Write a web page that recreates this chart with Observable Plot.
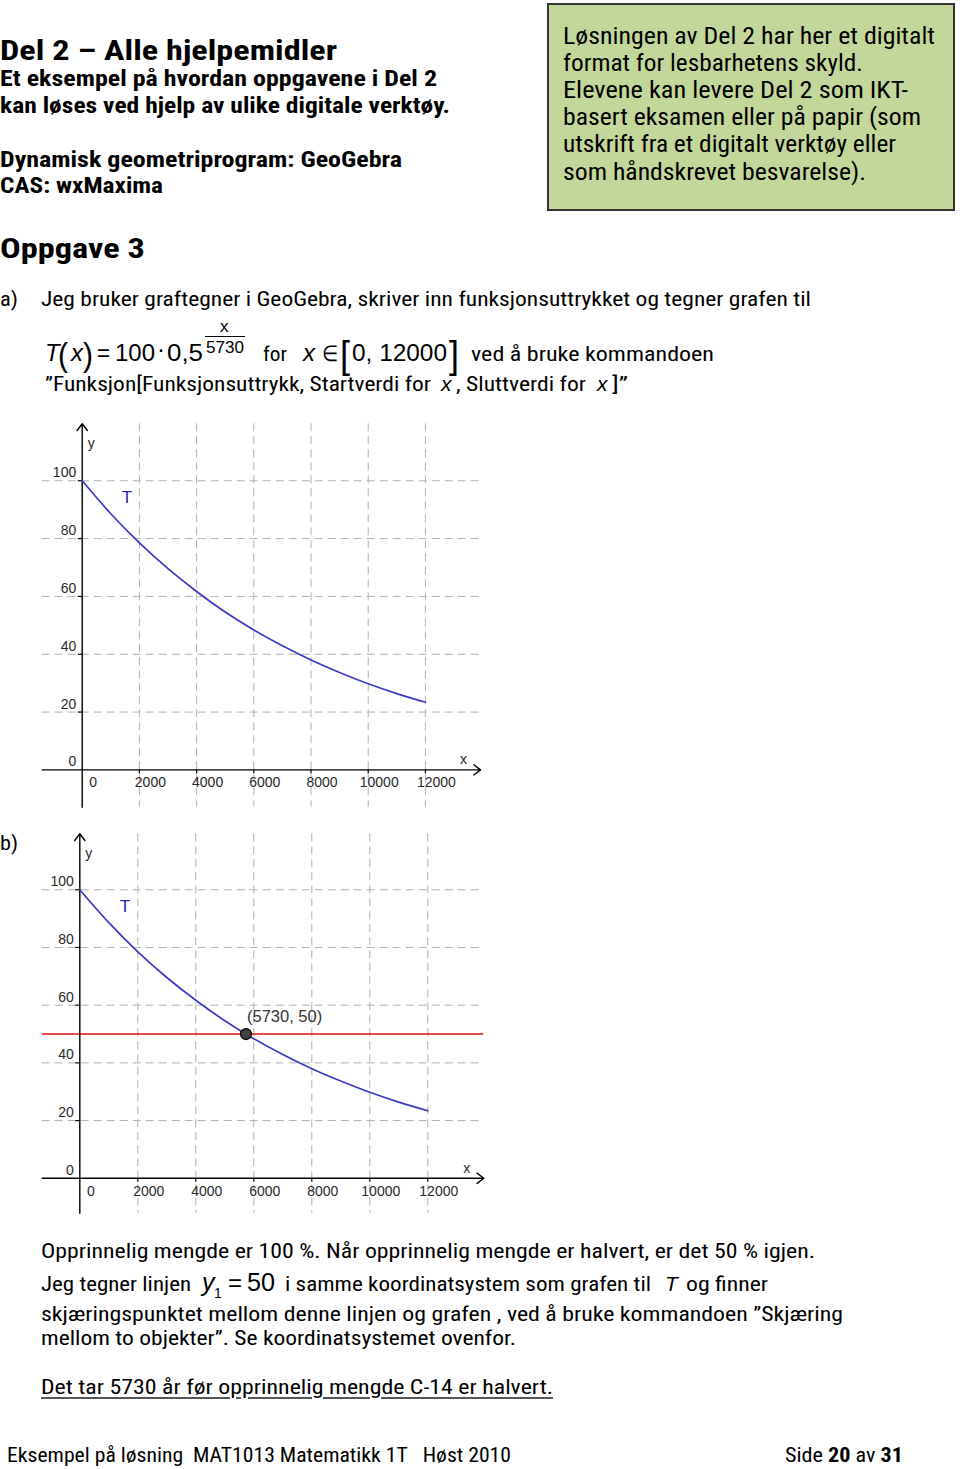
<!DOCTYPE html>
<html><head><meta charset="utf-8">
<script src="https://cdn.jsdelivr.net/npm/d3@7"></script>
<script src="https://cdn.jsdelivr.net/npm/@observablehq/plot@0.6"></script>
<style>
html,body{margin:0;padding:0;background:#fff;}
#page{position:relative;width:960px;height:1469px;overflow:hidden;font-family:"Liberation Sans Narrow","Roboto Condensed","DejaVu Sans Condensed","Liberation Sans",Arial,sans-serif;color:#000;}
.t{position:absolute;white-space:nowrap;line-height:1;transform-origin:0 0;}
.m{font-family:"Liberation Sans",Arial,sans-serif;}
#box{position:absolute;left:547px;top:3px;width:404px;height:204px;background:#c4d79b;border:2px solid #333;}
#fracbar{position:absolute;left:205px;top:336px;width:40px;height:0;border-top:1.3px solid #000;}
.chart{position:absolute;left:0;}
.u{text-decoration:underline;text-decoration-color:#555;text-decoration-thickness:2px;text-underline-offset:3px;}
</style></head><body><div id="page"><div id="box"></div><div id="fracbar"></div></div>
<script>
// ---------- chart data ----------
const tickValuesX = [0, 2000, 4000, 6000, 8000, 10000, 12000];
const tickValuesY = [0, 20, 40, 60, 80, 100];
const gridX = [2000, 4000, 6000, 8000, 10000, 12000];
const gridY = [20, 40, 60, 80, 100];
const years = [0, 1000, 2000, 3000, 4000, 5000, 6000, 7000, 8000, 9000, 10000, 11000, 12000];
const amount = [100, 88.6, 78.5, 69.6, 61.7, 54.6, 48.4, 42.9, 38.0, 33.7, 29.8, 26.4, 23.4];
const curveLabel = [{x: 1560, y: 94.2, text: "T"}];
const halfLine = [50];
const intersection = [{x: 5730, y: 50, text: "(5730, 50)"}];

const page = document.getElementById("page");
const items = [];
function put(x, bl, size, html, opts = {}) {
  const d = document.createElement("div");
  d.className = "t" + (opts.math ? " m" : "") + (opts.cls ? " " + opts.cls : "");
  d.style.fontSize = size + "px";
  if (opts.bold) d.style.fontWeight = "bold";
  if (opts.italic) d.style.fontStyle = "italic";
  d.innerHTML = html + '<span class="bl" style="display:inline-block;width:0;height:0;vertical-align:baseline"></span>';
  d.style.left = x + "px";
  d.style.top = "0px";
  page.appendChild(d);
  items.push({d, bl, w: opts.w});
}
function layout() {
  const pr = page.getBoundingClientRect();
  for (const it of items) {
    it.d.style.transform = "";
    it.d.style.top = "0px";
    const b = it.d.querySelector(".bl").getBoundingClientRect().top - pr.top;
    it.d.style.top = (it.bl - b) + "px";
    if (it.w) {
      const w = it.d.getBoundingClientRect().width;
      it.d.style.transform = `scaleX(${it.w / w})`;
    }
  }
}

// ---------- page text ----------
put(0, 60, 28, "Del 2 – Alle hjelpemidler", {bold: true, w: 337});
put(0, 86, 22, "Et eksempel på hvordan oppgavene i Del 2", {bold: true, w: 437});
put(0, 113, 22, "kan løses ved hjelp av ulike digitale verktøy.", {bold: true, w: 450});
put(0, 167, 22, "Dynamisk geometriprogram: GeoGebra", {bold: true, w: 402});
put(0, 193, 22, "CAS: wxMaxima", {bold: true, w: 163});

const boxLines = [
  ["Løsningen av Del 2 har her et digitalt", 44, 372],
  ["format for lesbarhetens skyld.", 71, 300],
  ["Elevene kan levere Del 2 som IKT-", 98, 345],
  ["basert eksamen eller på papir (som", 125, 358],
  ["utskrift fra et digitalt verktøy eller", 152, 333],
  ["som håndskrevet besvarelse).", 180, 303]
];
for (const [s, bl, w] of boxLines) put(563, bl, 23, s, {w});

put(0, 258, 28, "Oppgave 3", {bold: true, w: 145});
put(0, 306, 21, "a)", {w: 18});
put(41, 306, 21, "Jeg bruker graftegner i GeoGebra, skriver inn funksjonsuttrykket og tegner grafen til", {w: 770});

// formula line
put(45, 361, 24, "T", {math: true, italic: true});
put(58, 366, 34, "(", {math: true, w: 10});
put(71, 361, 24, "x", {math: true, italic: true});
put(83, 366, 34, ")", {math: true, w: 10});
put(97, 361, 24, "=", {math: true, w: 13});
put(115, 361, 24, "100", {math: true, w: 40});
put(157, 357, 24, "·", {math: true});
put(167, 361, 24, "0,5", {math: true, w: 36});
put(220, 332, 17, "x", {math: true});
put(206, 353, 17, "5730", {math: true, w: 38});
put(263, 361, 21, "for", {w: 24});
put(303, 361, 24, "x", {math: true, italic: true});
put(322, 361, 22, "∈", {math: true, w: 16});
put(340, 368, 38, "[", {math: true, w: 10});
put(352, 361, 24, "0, 12000", {math: true, w: 95});
put(449, 368, 38, "]", {math: true, w: 10});
put(471, 361, 21, "ved å bruke kommandoen", {w: 243});

put(45, 391, 21, "”Funksjon[Funksjonsuttrykk, Startverdi for", {w: 386});
put(441, 391, 21, "x", {math: true, italic: true});
put(456, 391, 21, ", Sluttverdi for", {w: 130});
put(597, 391, 21, "x", {math: true, italic: true});
put(612, 391, 21, "]”", {w: 16});

put(0, 850, 21, "b)", {w: 18});

put(41, 1258, 21, "Opprinnelig mengde er 100 %. Når opprinnelig mengde er halvert, er det 50 % igjen.", {w: 774});
put(41, 1291, 21, "Jeg tegner linjen", {w: 150});
put(202, 1291, 25, "y", {math: true, italic: true});
put(214, 1298, 14, "1", {math: true});
put(228, 1291, 24, "=", {math: true});
put(247, 1291, 25, "50", {math: true, w: 28});
put(285, 1291, 21, "i samme koordinatsystem som grafen til", {w: 366});
put(665, 1291, 21, "T", {math: true, italic: true});
put(686, 1291, 21, "og finner", {w: 82});
put(41, 1321, 21, "skjæringspunktet mellom denne linjen og grafen , ved å bruke kommandoen ”Skjæring", {w: 802});
put(41, 1345, 21, "mellom to objekter”. Se koordinatsystemet ovenfor.", {w: 475});
put(41, 1394, 21, '<span class="u">Det tar 5730 år før opprinnelig mengde C-14 er halvert.</span>', {w: 512});

put(7, 1462, 20, "Eksempel på løsning&nbsp; MAT1013 Matematikk 1T&nbsp;&nbsp; Høst 2010", {w: 504});
put(785, 1462, 20, 'Side <b>20</b> av <b>31</b>', {w: 118});

// ---------- charts ----------
const curve = years.map((x, i) => ({x, y: amount[i]}));
function chart({top, xDomain, yDomain, margins, withIntersection}) {
  const [x0, x1] = xDomain, [y0, y1] = yDomain;
  const gridStyle = {stroke: "#b0b0b0", strokeWidth: 1, strokeDasharray: "8,5"};
  const labelFont = "Liberation Sans, Arial, sans-serif";
  const marks = [
    Plot.ruleY(gridY, {y: d => d, ...gridStyle}),
    Plot.ruleX(gridX, {x: d => d, ...gridStyle})
  ];
  if (withIntersection) marks.push(Plot.ruleY(halfLine, {y: d => d, stroke: "#e01010", strokeWidth: 1.6}));
  marks.push(
    Plot.arrow([0], {x1: () => x0, y1: () => 0, x2: () => x1, y2: () => 0, stroke: "#000", strokeWidth: 1.4, headLength: 9, headAngle: 75}),
    Plot.arrow([0], {x1: () => 0, y1: () => y0, x2: () => 0, y2: () => y1, stroke: "#000", strokeWidth: 1.4, headLength: 9, headAngle: 75}),
    Plot.ruleX(gridX, {x: d => d, y1: () => 0, y2: () => 0, insetTop: -2, insetBottom: -2, dy: 2, stroke: "#000", strokeWidth: 1.2}),
    Plot.ruleY(gridY, {y: d => d, x1: () => 0, x2: () => 0, insetLeft: -2, insetRight: -2, dx: -2, stroke: "#000", strokeWidth: 1.2}),
    Plot.line(curve, {x: "x", y: "y", stroke: "#3a3ac4", strokeWidth: 1.7, curve: "catmull-rom"}),
    Plot.text(tickValuesX, {x: d => d, y: () => 0, text: d => String(d), dx: 11, dy: 13, fontSize: 14, fill: "#2a2a2a", fontFamily: labelFont}),
    Plot.text(tickValuesY, {x: () => 0, y: d => d, text: d => String(d), textAnchor: "end", dx: -6, dy: -8, fontSize: 14, fill: "#2a2a2a", fontFamily: labelFont}),
    Plot.text(["y"], {x: () => 0, y: () => y1, text: d => d, dx: 9, dy: 20, fontSize: 14, fill: "#2a2a2a", fontFamily: labelFont}),
    Plot.text(["x"], {x: () => x1, y: () => 0, text: d => d, dx: -17, dy: -10, fontSize: 14, fill: "#2a2a2a", fontFamily: labelFont}),
    Plot.text(curveLabel, {x: "x", y: "y", text: "text", fontSize: 17, fill: "#2424b8", fontFamily: labelFont})
  );
  if (withIntersection) {
    marks.push(
      Plot.dot(intersection, {x: "x", y: "y", r: 5.5, fill: "#404040", stroke: "#000", strokeWidth: 1.2}),
      Plot.text(intersection, {x: "x", y: "y", text: "text", textAnchor: "start", dx: 1, dy: -17, fontSize: 16.5, fill: "#333", fontFamily: labelFont})
    );
  }
  const svg = Plot.plot({
    width: 500, height: 410,
    marginLeft: margins[0], marginRight: margins[1], marginTop: margins[2], marginBottom: margins[3],
    x: {domain: xDomain, axis: null},
    y: {domain: yDomain, axis: null},
    style: {background: "transparent", overflow: "visible"},
    marks
  });
  svg.classList.add("chart");
  svg.style.top = top + "px";
  page.appendChild(svg);
}
chart({top: 410, xDomain: [-1399, 13926], yDomain: [-12.9, 119.7], margins: [41.7, 20, 13.3, 13.3], withIntersection: false});
chart({top: 820, xDomain: [-1297, 13931], yDomain: [-12.1, 119.4], margins: [41.7, 16.7, 13.3, 17.3], withIntersection: true});

layout();
if (document.fonts && document.fonts.ready) document.fonts.ready.then(layout);
</script></body></html>
